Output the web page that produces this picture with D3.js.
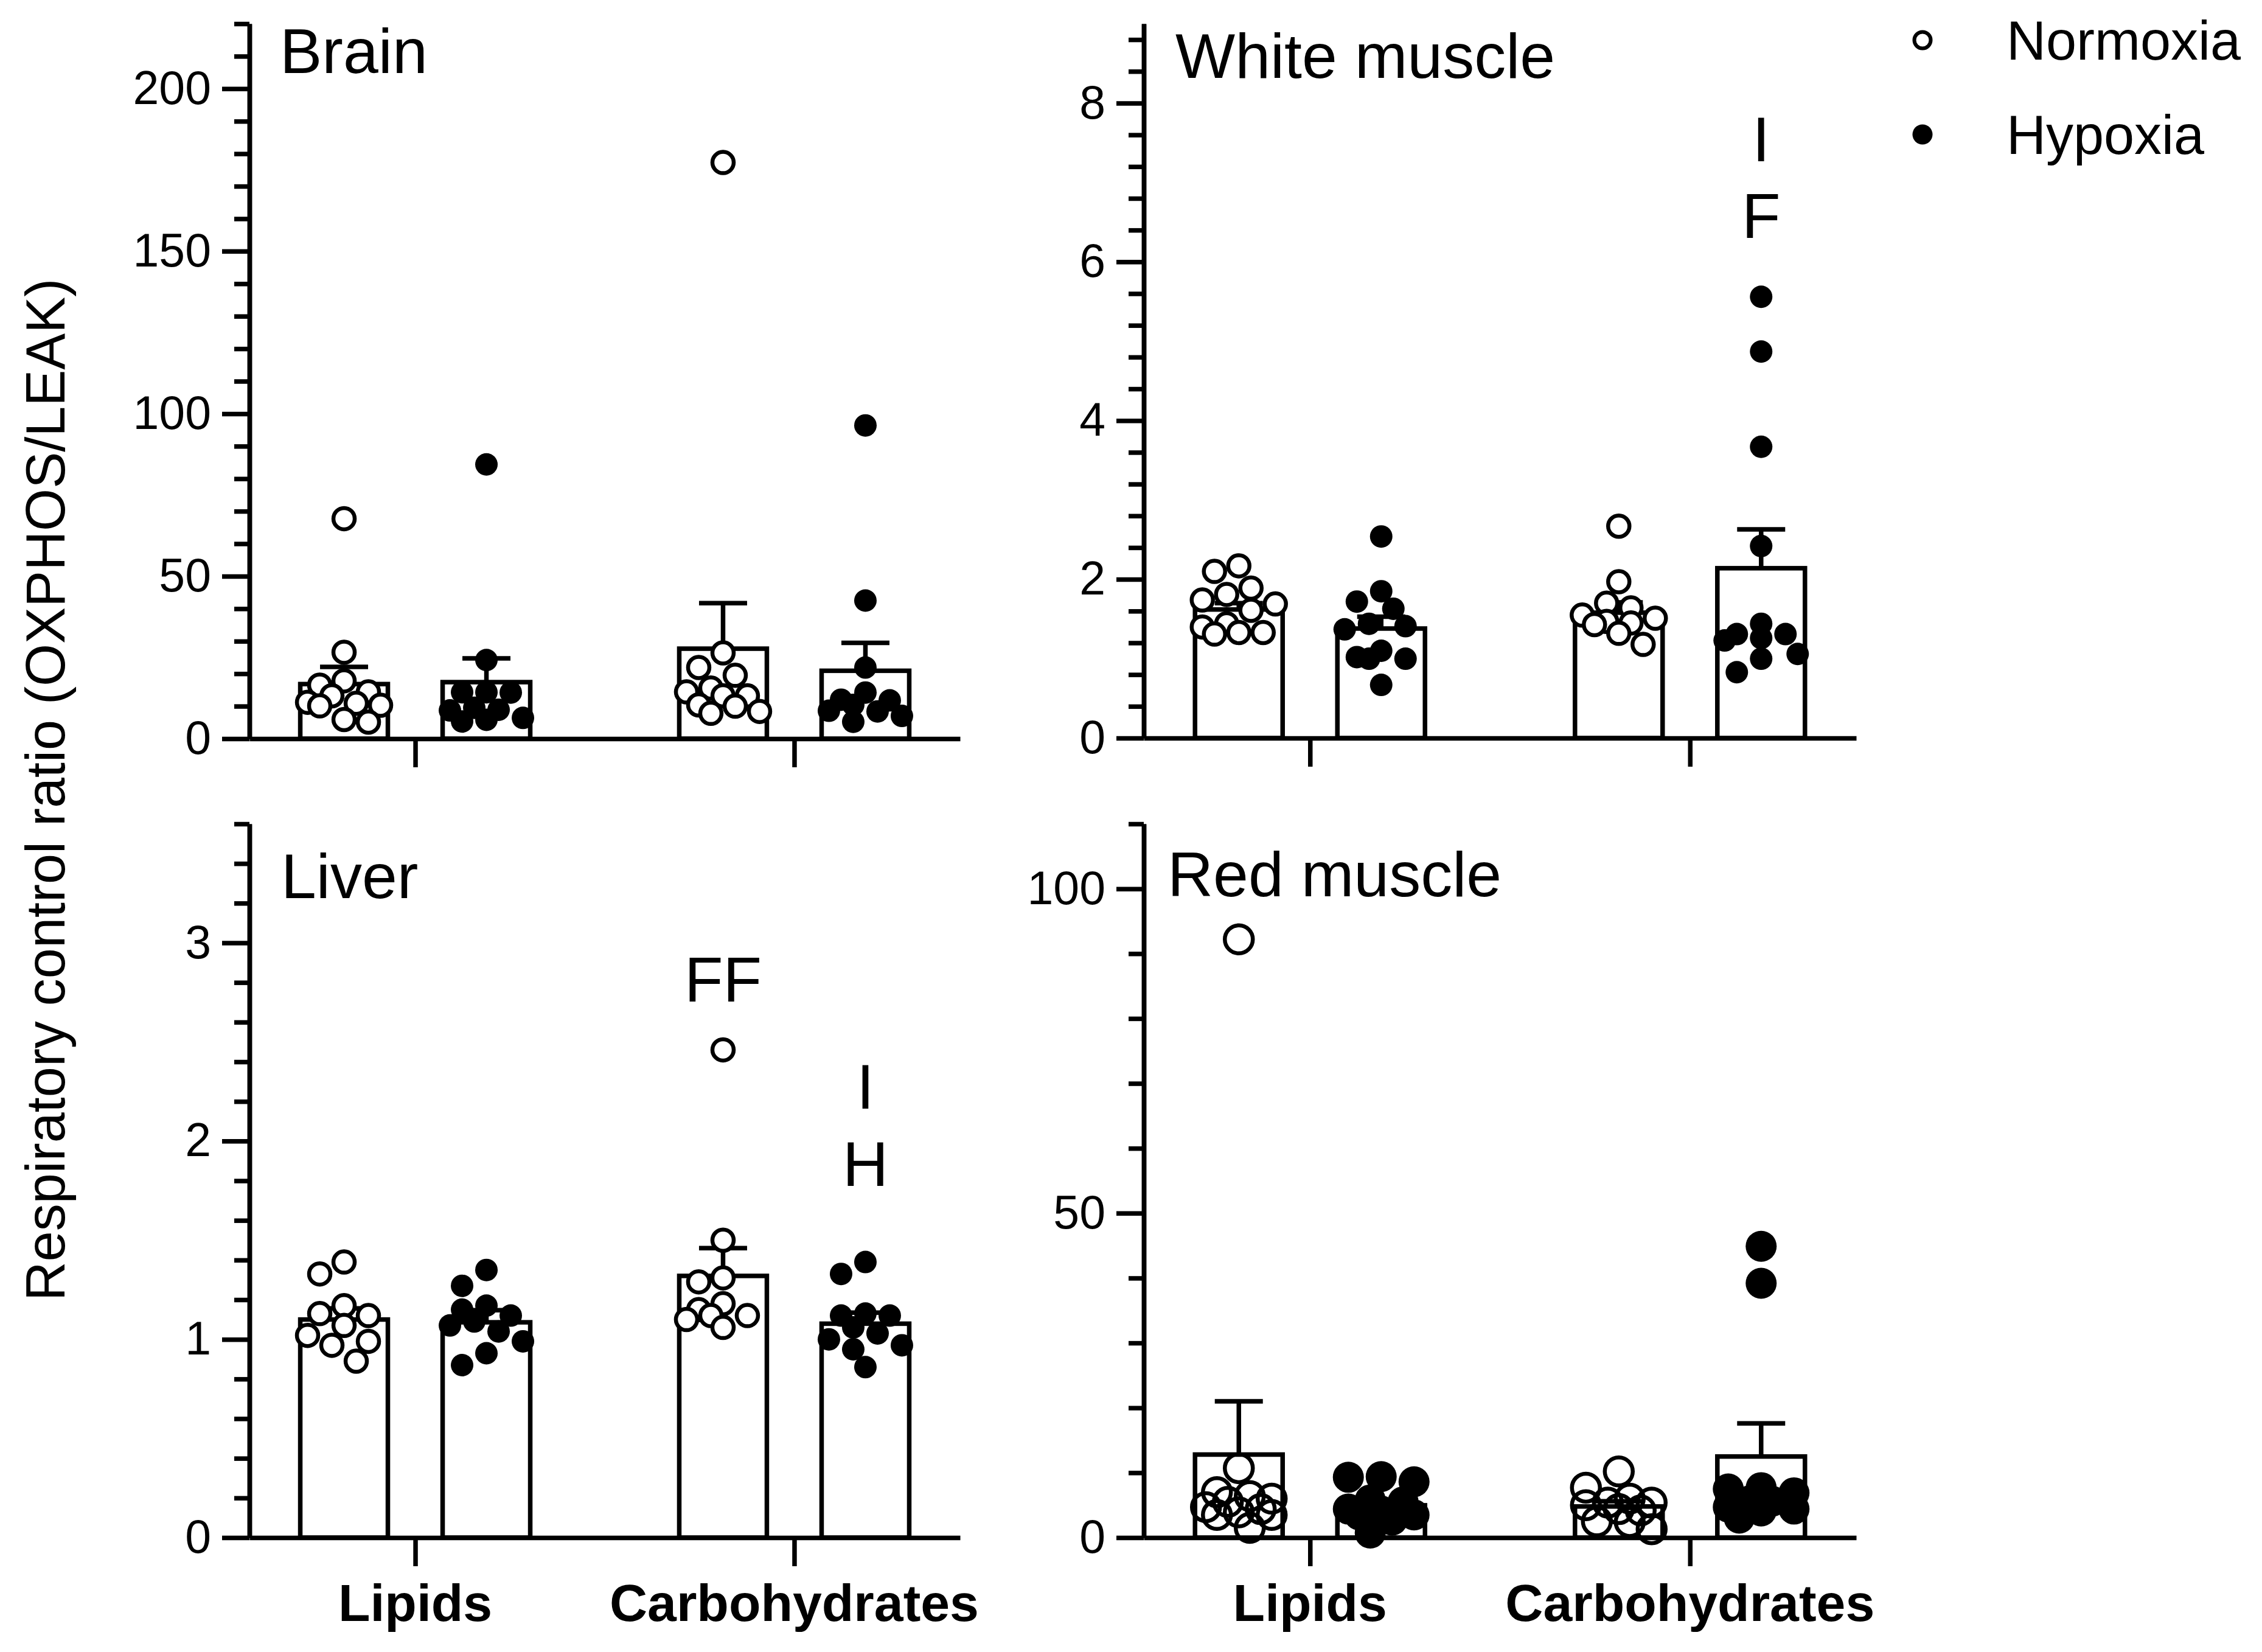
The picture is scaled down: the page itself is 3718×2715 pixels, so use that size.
<!DOCTYPE html>
<html><head><meta charset="utf-8">
<script src="https://cdn.jsdelivr.net/npm/d3@7/dist/d3.min.js"></script>
<style>
html,body{margin:0;padding:0;background:#fff;}
svg{display:block;}
text{font-family:Arial,"Liberation Sans",sans-serif;fill:#000;}
</style>
</head><body>
<svg id="chart" width="3718" height="2715"></svg>
<script>
// ---------------- DATA ----------------
const categories = ["Lipids", "Carbohydrates"];
const seriesNames = ["Normoxia", "Hypoxia"];

// Brain  (index 0 = Lipids, 1 = Carbohydrates)
const brainNormoxia = [[67.7, 26.6, 17.8, 16.5, 14.4, 13.2, 11.2, 10.9, 10.3, 10.1, 5.9, 5.1],
                       [177.3, 26.4, 21.9, 19.5, 15.6, 14.4, 13.2, 13.2, 10.4, 10.0, 8.4, 7.8]];
const brainHypoxia  = [[84.4, 24.2, 14.3, 14.3, 14.2, 9.5, 8.9, 8.7, 6.4, 5.8, 5.3],
                       [96.4, 42.5, 21.9, 14.2, 12.0, 11.8, 10.4, 8.6, 8.4, 7.0, 5.2]];
const brainMean = [[16.8, 27.7], [17.4, 20.9]];   // [Normoxia, Hypoxia]
const brainSEM  = [[5.3, 14.0], [7.3, 8.6]];

// White muscle
const whiteNormoxia = [[2.17, 2.10, 1.89, 1.81, 1.74, 1.69, 1.61, 1.44, 1.40, 1.33, 1.33, 1.31],
                       [2.67, 1.97, 1.70, 1.64, 1.55, 1.51, 1.47, 1.45, 1.43, 1.32, 1.18]];
const whiteHypoxia  = [[2.54, 1.85, 1.72, 1.63, 1.44, 1.41, 1.37, 1.10, 1.02, 1.00, 1.00, 0.67],
                       [5.56, 4.87, 3.67, 2.42, 1.44, 1.31, 1.31, 1.26, 1.23, 1.06, 1.00, 0.83]];
const whiteMean = [[1.62, 1.58], [1.38, 2.14]];
const whiteSEM  = [[0.08, 0.13], [0.15, 0.49]];

// Liver
const liverNormoxia = [[1.39, 1.33, 1.17, 1.13, 1.12, 1.07, 1.02, 0.99, 0.97, 0.89],
                       [2.46, 1.50, 1.31, 1.29, 1.18, 1.15, 1.12, 1.12, 1.10, 1.06]];
const liverHypoxia  = [[1.35, 1.27, 1.17, 1.15, 1.12, 1.09, 1.07, 1.04, 0.99, 0.93, 0.87],
                       [1.39, 1.33, 1.13, 1.12, 1.12, 1.06, 1.03, 1.00, 0.97, 0.95, 0.86]];
const liverMean = [[1.10, 1.32], [1.086, 1.079]];
const liverSEM  = [[0.056, 0.14], [0.061, 0.056]];

// Red muscle
const redNormoxia = [[92.2, 10.7, 7.0, 6.4, 6.0, 5.5, 4.7, 4.4, 3.9, 3.5, 3.5, 1.5],
                     [10.2, 7.7, 6.0, 5.4, 5.4, 5.0, 4.4, 4.2, 2.5, 2.4, 1.3]];
const redHypoxia  = [[9.4, 9.3, 8.6, 5.8, 5.5, 4.4, 4.1, 3.5, 3.5, 2.7, 0.7],
                     [44.9, 39.2, 7.7, 7.5, 6.9, 5.7, 5.6, 4.7, 4.4, 4.1, 3.0]];
const redMean = [[12.8, 4.8], [4.98, 12.5]];
const redSEM  = [[8.2, 0.8], [0.8, 5.1]];

// y-axis tick settings (value space)
const yMaxes   = [220, 9, 3.6, 110];
const yMajors  = [50, 2, 1, 50];
const yMinors  = [10, 0.4, 0.2, 10];

// significance annotations: [panel, category, series, label, y value of baseline]
const annotations = [
  ["White muscle", "Carbohydrates", "Hypoxia", "I", 7.27],
  ["White muscle", "Carbohydrates", "Hypoxia", "F", 6.30],
  ["Liver", "Carbohydrates", "Normoxia", "FF", 2.705],
  ["Liver", "Carbohydrates", "Hypoxia", "I", 2.164],
  ["Liver", "Carbohydrates", "Hypoxia", "H", 1.774]
];

const yTitle = "Respiratory control ratio (OXPHOS/LEAK)";

// ---------------- LAYOUT ----------------
const panels = [
  {name:"Brain", n:brainNormoxia, h:brainHypoxia, mean:brainMean, sem:brainSEM, idx:0,
   x0:410, x1:1578, yB:1214, yT:39, tx:460, ty:120, xlabels:false, openFill:"#fff", rO:17.5, rF:18.5, step:20},
  {name:"White muscle", n:whiteNormoxia, h:whiteHypoxia, mean:whiteMean, sem:whiteSEM, idx:1,
   x0:1880, x1:3051, yB:1213, yT:39, tx:1932, ty:128, xlabels:false, openFill:"#fff", rO:17.5, rF:18.5, step:20},
  {name:"Liver", n:liverNormoxia, h:liverHypoxia, mean:liverMean, sem:liverSEM, idx:2,
   x0:410, x1:1578, yB:2527, yT:1354, tx:462, ty:1476, xlabels:true, openFill:"#fff", rO:17.5, rF:18.5, step:20},
  {name:"Red muscle", n:redNormoxia, h:redHypoxia, mean:redMean, sem:redSEM, idx:3,
   x0:1880, x1:3051, yB:2527, yT:1354, tx:1919, ty:1473, xlabels:true, openFill:"none", rO:23, rF:25.5, step:18}
];

const SW = 7.5;        // line width
const BAR_W = 144;     // bar width
const SERIES_OFF = 117;
const CAP = 79;

const svg = d3.select("#chart");
svg.append("rect").attr("width",3718).attr("height",2715).attr("fill","#fff");

function swarm(values, y, rOuter, step) {
  const placed = [];
  const minD = 2 * rOuter * 0.9;
  const order = values.map((v, i) => i).sort((a, b) => values[b] - values[a]);
  const cands = [0, -1, 1, -2, 2, -3, 3];
  const out = new Array(values.length);
  for (const i of order) {
    const py = y(values[i]);
    let best = 0, bestD = -1;
    for (const c of cands) {
      const px = c * step;
      let md = Infinity;
      for (const p of placed) md = Math.min(md, Math.hypot(p.x - px, p.y - py));
      if (md >= minD) { best = px; bestD = md; break; }
      if (md > bestD) { bestD = md; best = px; }
    }
    placed.push({x: best, y: py});
    out[i] = {dx: best, v: values[i]};
  }
  return out;
}

panels.forEach(p => {
  const max = yMaxes[p.idx], major = yMajors[p.idx], minor = yMinors[p.idx];
  const y = d3.scaleLinear().domain([0, max]).range([p.yB, p.yT]);
  const x = d3.scalePoint().domain(categories).range([p.x0, p.x1]).padding(0.4375);
  const xs = d3.scalePoint().domain(seriesNames).range([-SERIES_OFF, SERIES_OFF]);
  const g = svg.append("g");

  // bars
  seriesNames.forEach((s, si) => {
    g.selectAll(null).data(categories).join("rect")
      .attr("x", c => x(c) + xs(s) - BAR_W / 2)
      .attr("y", (c, ci) => y(p.mean[si][ci]))
      .attr("width", BAR_W)
      .attr("height", (c, ci) => y(0) - y(p.mean[si][ci]))
      .attr("fill", "#fff").attr("stroke", "#000").attr("stroke-width", SW);
  });
  // error bars (upper only)
  seriesNames.forEach((s, si) => {
    categories.forEach((c, ci) => {
      const cx = x(c) + xs(s);
      const top = y(p.mean[si][ci] + p.sem[si][ci]);
      g.append("line").attr("x1", cx).attr("x2", cx)
        .attr("y1", y(p.mean[si][ci])).attr("y2", top)
        .attr("stroke", "#000").attr("stroke-width", SW);
      g.append("line").attr("x1", cx - CAP / 2).attr("x2", cx + CAP / 2)
        .attr("y1", top).attr("y2", top)
        .attr("stroke", "#000").attr("stroke-width", SW);
    });
  });
  // points
  const sets = [p.n, p.h];
  seriesNames.forEach((s, si) => {
    categories.forEach((c, ci) => {
      const r = si === 0 ? p.rO + 3 : p.rF;
      const pts = swarm(sets[si][ci], y, r, p.step);
      const cx = x(c) + xs(s);
      g.selectAll(null).data(pts).join("circle")
        .attr("cx", d => cx + d.dx)
        .attr("cy", d => y(d.v))
        .attr("r", si === 0 ? p.rO : p.rF)
        .attr("fill", si === 0 ? p.openFill : "#000")
        .attr("stroke", si === 0 ? "#000" : "none")
        .attr("stroke-width", si === 0 ? 6.5 : 0);
    });
  });

  // y axis: minor ticks
  const majors = d3.range(0, max + 1e-9, major);
  const minors = d3.range(0, max + 1e-9, minor).filter(v => Math.abs(v / major - Math.round(v / major)) > 1e-6);
  const yMinor = g.append("g").attr("transform", `translate(${p.x0},0)`)
    .call(d3.axisLeft(y).tickValues(minors).tickSize(25).tickSizeOuter(0).tickFormat(""));
  const yMajor = g.append("g").attr("transform", `translate(${p.x0},0)`)
    .call(d3.axisLeft(y).tickValues(majors).tickSize(45).tickSizeOuter(0).tickPadding(18).tickFormat(d3.format("~g")));
  [yMinor, yMajor].forEach(a => {
    a.selectAll("path, line").attr("stroke", "#000").attr("stroke-width", SW);
    a.selectAll("text").attr("font-size", 77).attr("font-family", "Arial, 'Liberation Sans', sans-serif").attr("fill", "#000");
  });

  // x axis
  const xa = g.append("g").attr("transform", `translate(0,${p.yB})`)
    .call(d3.axisBottom(x).tickSize(47).tickSizeOuter(0).tickFormat(""));
  xa.selectAll("path, line").attr("stroke", "#000").attr("stroke-width", SW);

  if (p.xlabels) {
    g.selectAll(null).data(categories).join("text")
      .attr("x", c => x(c)).attr("y", 2664)
      .attr("text-anchor", "middle").attr("font-size", 86).attr("font-weight", "bold")
      .text(c => c);
  }

  // panel title
  g.append("text").attr("x", p.tx).attr("y", p.ty).attr("font-size", 104).text(p.name);

  // annotations
  annotations.filter(a => a[0] === p.name).forEach(a => {
    g.append("text").attr("x", x(a[1]) + xs(a[2])).attr("y", y(a[4]))
      .attr("text-anchor", "middle").attr("font-size", 104).text(a[3]);
  });
});

// y axis title
svg.append("text").attr("transform", "translate(106,1298) rotate(-90)")
  .attr("text-anchor", "middle").attr("font-size", 90).text(yTitle);

// legend
const legend = svg.append("g");
const legendY = d3.scalePoint().domain(seriesNames).range([66, 221]);
seriesNames.forEach((s, i) => {
  legend.append("circle").attr("cx", 3160).attr("cy", legendY(s))
    .attr("r", i === 0 ? 13.5 : 16.5)
    .attr("fill", i === 0 ? "#fff" : "#000")
    .attr("stroke", i === 0 ? "#000" : "none").attr("stroke-width", 6);
  legend.append("text").attr("x", 3298).attr("y", legendY(s) + 32)
    .attr("font-size", 90).text(s);
});
</script>
</body></html>
